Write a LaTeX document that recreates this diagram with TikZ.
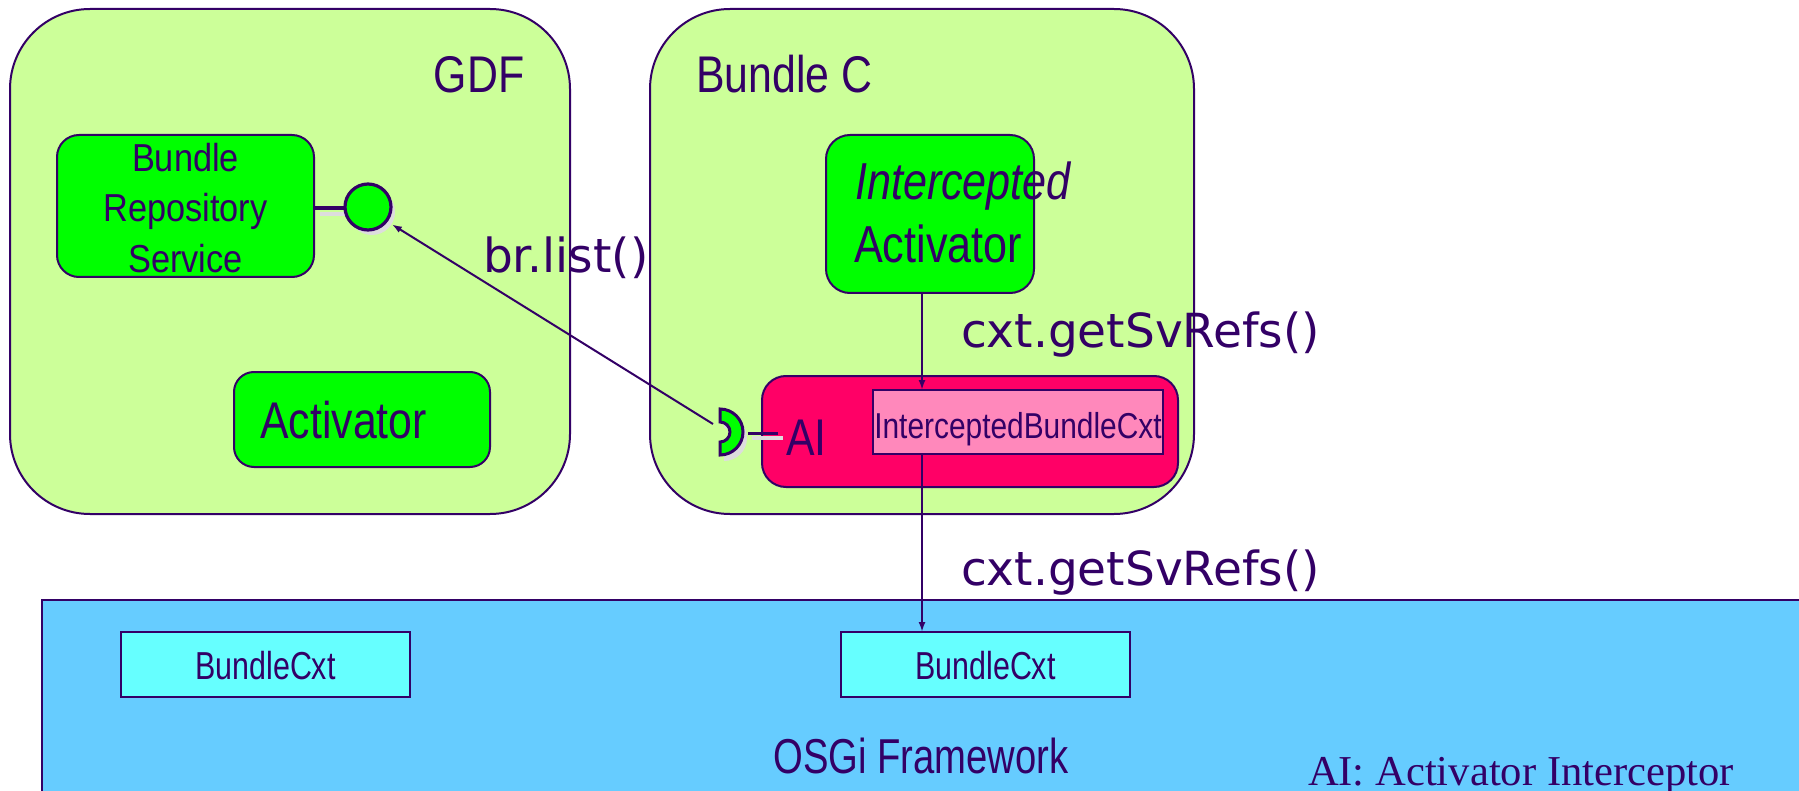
\documentclass[tikz,border=0pt]{standalone}
\usepackage{fontspec}
\setmainfont{Liberation Sans}
\newfontfamily\sansN[FakeStretch=0.83]{Liberation Sans}
\newfontfamily\sansW[FakeStretch=0.88]{Liberation Sans}
\newfontfamily\sansC[FakeStretch=0.78]{Liberation Sans}
\newfontfamily\serifF{Liberation Serif}
\newfontfamily\comicF{DejaVu Sans}
\usetikzlibrary{arrows.meta}

\definecolor{ink}{HTML}{330066}
\definecolor{paleg}{HTML}{CCFF99}
\definecolor{brightg}{HTML}{00FF00}
\definecolor{aired}{HTML}{FF0066}
\definecolor{ibcpink}{HTML}{FF88BB}
\definecolor{osgiblue}{HTML}{66CCFF}
\definecolor{ctxcyan}{HTML}{66FFFF}
\definecolor{shadowgrey}{HTML}{DDDDDD}

\tikzset{
  bundle/.style={draw=ink, line width=1pt, fill=paleg, rounded corners=40pt, inner sep=0pt, outer sep=0pt},
  comp/.style={draw=ink, line width=1pt, fill=brightg, inner sep=0pt, outer sep=0pt},
  ctxbox/.style={draw=ink, line width=1.3pt, fill=ctxcyan, minimum width=144.5pt, minimum height=32.5pt, inner sep=0pt, outer sep=0pt},
  txt/.style={inner sep=0pt, outer sep=0pt, text=ink, anchor=base},
  call/.style={txt, anchor=base west, font=\comicF\fontsize{23.5}{28}\selectfont},
  link/.style={draw=ink, line width=1pt, -{Latex[length=5pt,width=3.5pt]}},
}

\begin{document}
\begin{tikzpicture}[x=0.5pt, y=-0.5pt]
\useasboundingbox (0,0) rectangle (1799,791);

% bundles
\node[bundle, minimum width=280pt, minimum height=252.5pt] (gdf) at (290,261.5) {};
\node[bundle, minimum width=272pt, minimum height=252.5pt] (bc) at (922,261.5) {};

% components inside the bundles
\node[comp, rounded corners=11pt, minimum width=128.5pt, minimum height=71pt] (brs) at (185.5,206) {};
\node[comp, rounded corners=10pt, minimum width=128pt, minimum height=47.5pt] (act) at (362,419.5) {};
\node[comp, rounded corners=12pt, minimum width=104pt, minimum height=79pt] (ia) at (930,214) {};
\node[draw=ink, line width=1pt, fill=aired, rounded corners=12pt, minimum width=208pt, minimum height=55.5pt, inner sep=0pt, outer sep=0pt] (ai) at (970,431.5) {};
\node[draw=ink, line width=1.3pt, fill=ibcpink, minimum width=145pt, minimum height=32pt, inner sep=0pt, outer sep=0pt] (ibc) at (1018,422) {};

% framework
\node[draw=ink, line width=1.4pt, fill=osgiblue, anchor=north west, minimum width=900pt, minimum height=110pt, inner sep=0pt, outer sep=0pt] (osgi) at (42,600) {};
\node[ctxbox] (bc1) at (265.5,664.5) {};
\node[ctxbox] (bc2) at (985.5,664.5) {};

% provided interface (lollipop)
\draw[shadowgrey, line width=2pt] (320,214) -- (350,214);
\node[circle, fill=shadowgrey, minimum size=23pt, inner sep=0pt] (lollish) at (372,212) {};
\draw[ink, line width=1.6pt] (brs.east |- 0,208) -- (346,208);
\node[circle, draw=ink, line width=1.6pt, fill=brightg, minimum size=23pt, inner sep=0pt] (lolli) at (368,207) {};

% required interface (socket) of the interceptor
\fill[shadowgrey] (724,415) arc[start angle=90, end angle=-90, radius=11.5pt] -- ++(0,-13) arc[start angle=-90, end angle=90, radius=5pt] -- cycle;
\draw[shadowgrey, line width=2pt] (752,438) -- (783,438);
\filldraw[fill=brightg, draw=ink, line width=1.5pt] (720,409) arc[start angle=90, end angle=-90, radius=11.5pt] -- ++(0,-13) arc[start angle=-90, end angle=90, radius=5pt] -- cycle;
\draw[ink, line width=1.5pt] (748,433) -- (778,433);
\coordinate (sockend) at (713,424);

% calls
\coordinate (col) at (922,0);
\draw[link] (sockend) -- (lollish);
\draw[link] (ia.south -| col) -- (ibc.north -| col);
\draw[link] (ibc.south -| col) -- (bc2.north -| col);

% texts
\node[txt, font=\sansN\fontsize{25.8}{30}\selectfont] (gdfl) at (479,93) {GDF};
\node[txt, font=\sansN\fontsize{25.8}{30}\selectfont] (bcl) at (784.5,93) {Bundle C};
\node[txt, font=\sansW\fontsize{19.5}{24}\selectfont] (brs1) at (185.5,172) {Bundle};
\node[txt, font=\sansW\fontsize{19.5}{24}\selectfont] (brs2) at (185.5,222) {Repository};
\node[txt, font=\sansW\fontsize{19.5}{24}\selectfont] (brs3) at (185.5,273) {Service};
\node[txt, font=\sansN\fontsize{25.8}{30}\selectfont] (actl) at (343.5,438) {Activator};
\node[txt, font=\sansN\itshape\fontsize{26}{30}\selectfont] (ial1) at (963,200) {Intercepted};
\node[txt, font=\sansN\fontsize{26}{30}\selectfont] (ial2) at (938,263) {Activator};
\node[txt, font=\sansN\fontsize{25.8}{30}\selectfont] (ail) at (806.5,455) {AI};
\node[txt, font=\sansN\fontsize{18}{22}\selectfont] (ibcl) at (1018,438) {InterceptedBundleCxt};
\node[txt, font=\sansC\fontsize{19.5}{24}\selectfont] (bc1l) at (265.5,679) {BundleCxt};
\node[txt, font=\sansC\fontsize{19.5}{24}\selectfont] (bc2l) at (985.5,679) {BundleCxt};
\node[txt, font=\sansC\fontsize{24.5}{29}\selectfont] (osgil) at (921,773) {OSGi Framework};
\node[txt, anchor=base west, font=\serifF\fontsize{21.3}{25}\selectfont] (legend) at (1308,785) {AI: Activator Interceptor};
\node[call] (brl) at (483,272) {br.list()};
\node[call] (cxt1) at (961,347) {cxt.getSvRefs()};
\node[call] (cxt2) at (961,585) {cxt.getSvRefs()};
\end{tikzpicture}
\end{document}
